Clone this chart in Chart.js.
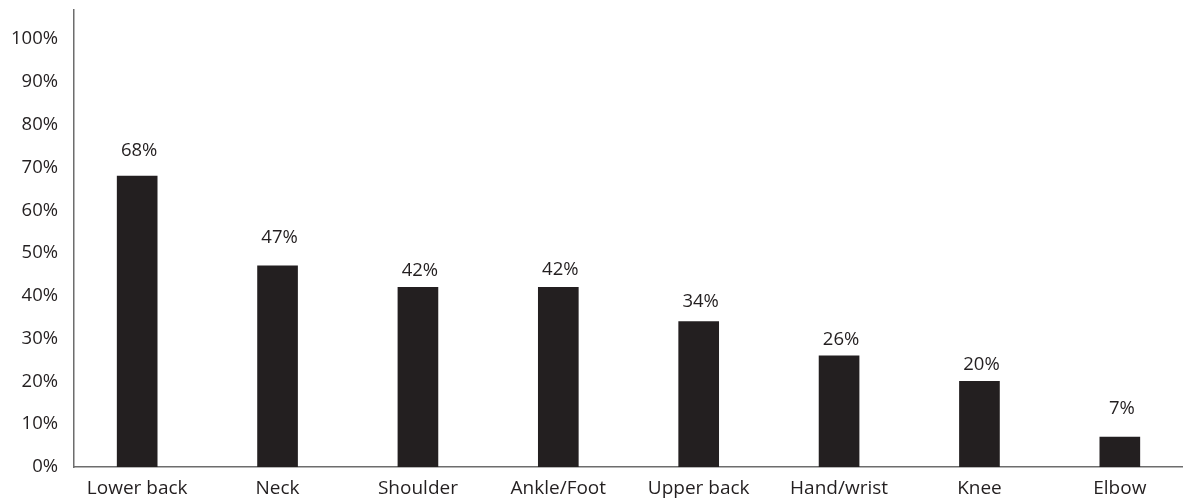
<!DOCTYPE html>
<html>
<head>
<meta charset="utf-8">
<script src="https://cdn.jsdelivr.net/npm/chart.js@4"></script>
<style>
    html, body { margin: 0; padding: 0; background: #fff; overflow: hidden; }
    #wrap { width: 1183px; height: 499px; }
</style>
</head>
<body>
<div id="wrap"><canvas id="painChart" width="1183" height="499"></canvas></div>
<script>
// Data
const categories = ['Lower back', 'Neck', 'Shoulder', 'Ankle/Foot', 'Upper back', 'Hand/wrist', 'Knee', 'Elbow'];
const shares = [68, 47, 42, 42, 34, 26, 20, 7];
const yTicks = [0, 10, 20, 30, 40, 50, 60, 70, 80, 90, 100];

// label lift above each bar (px), the reference is not consistent
const labelLift = [25, 28, 17, 18, 20, 16, 17, 28];

const ink = '#231f20';
const fontFamily = '"Open Sans", "Noto Sans", sans-serif';

const valueLabels = {
    id: 'valueLabels',
    afterDatasetsDraw(chart) {
        const ctx = chart.ctx;
        const meta = chart.getDatasetMeta(0);
        ctx.save();
        ctx.font = '18.5px ' + fontFamily;
        ctx.fillStyle = ink;
        ctx.textAlign = 'center';
        ctx.textBaseline = 'middle';
        meta.data.forEach((bar, i) => {
            ctx.fillText(shares[i] + '%', bar.x + 2, bar.y - labelLift[i]);
        });
        ctx.restore();
    }
};

const ctx = document.getElementById('painChart').getContext('2d');
new Chart(ctx, {
    type: 'bar',
    data: {
        datasets: [{
            data: shares.map((v, i) => ({ x: i, y: v })),
            backgroundColor: ink,
            barThickness: 40
        }]
    },
    options: {
        responsive: false,
        animation: false,
        layout: { padding: { top: 10, right: 0, left: 0, bottom: 0 } },
        plugins: {
            legend: { display: false },
            tooltip: { enabled: false }
        },
        scales: {
            x: {
                type: 'linear',
                offset: false,
                min: -0.45,
                max: 7.45,
                grid: { display: false, drawTicks: false, offset: false },
                border: { display: true, color: '#6d6d6d', width: 1.5 },
                afterBuildTicks: (scale) => {
                    scale.ticks = categories.map((c, i) => ({ value: i }));
                },
                afterFit: (scale) => {
                    scale.height = 32;
                    scale.paddingLeft = 0;
                    scale.paddingRight = 0;
                },
                ticks: {
                    autoSkip: false,
                    maxRotation: 0,
                    padding: 10,
                    color: ink,
                    font: { family: fontFamily, size: 19 },
                    callback: (v) => categories[v]
                }
            },
            y: {
                min: 0,
                max: 106.8,
                grid: { display: false, drawTicks: false },
                border: { display: true, color: '#6d6d6d', width: 1.5 },
                afterBuildTicks: (scale) => {
                    scale.ticks = yTicks.map(v => ({ value: v }));
                },
                afterFit: (scale) => {
                    scale.width = 74;
                    scale.paddingTop = 0;
                    scale.paddingBottom = 0;
                },
                ticks: {
                    padding: 16,
                    color: ink,
                    font: { family: fontFamily, size: 18.5 },
                    callback: (v) => v + '%'
                }
            }
        }
    },
    plugins: [valueLabels]
});
</script>
</body>
</html>
